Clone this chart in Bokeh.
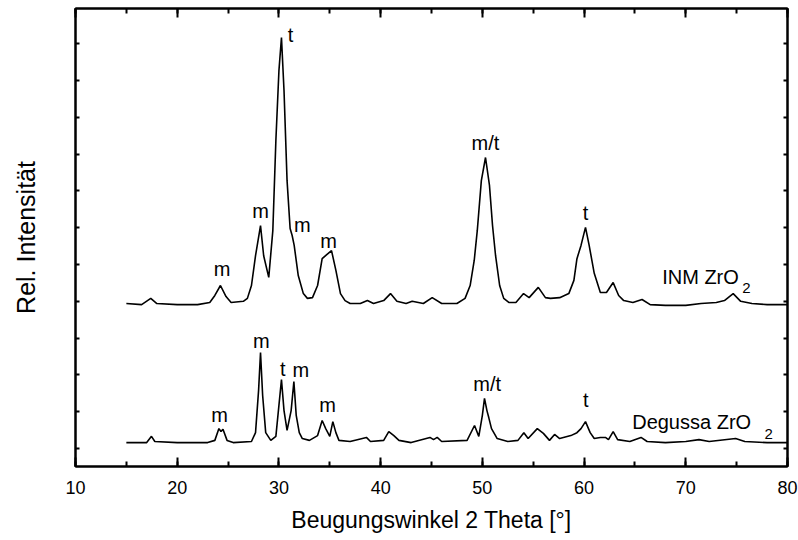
from bokeh.plotting import figure
from bokeh.models import (LinearAxis, Range1d, FixedTicker, ColumnDataSource,
                          SingleIntervalTicker, CustomLabelingPolicy)
from bokeh.core.properties import value
from bokeh.embed import file_html
from bokeh.resources import INLINE

# ---- data (2 theta in degrees, relative intensity) ----
inm_x = [15.0, 16.5, 17.4, 18.0, 20.0, 22.0, 23.2, 23.7, 24.25, 24.8, 25.3, 26.5, 26.9, 27.3,
         27.7, 28.19, 28.5, 29.0, 29.4, 29.7, 30.0, 30.25, 30.5, 30.8, 31.1, 31.3, 31.5, 31.9,
         32.4, 32.8, 33.3, 33.8, 34.25, 34.7, 35.17, 35.6, 36.05, 36.5, 37.0, 38.0, 38.7, 39.3,
         40.3, 40.97, 41.6, 42.5, 43.1, 44.2, 45.07, 46.0, 47.5, 48.3, 48.8, 49.2, 49.5, 49.9,
         50.31, 50.7, 51.0, 51.3, 51.7, 52.1, 52.6, 53.3, 54.05, 54.6, 55.5, 56.2, 56.7, 57.6,
         58.5, 59.0, 59.3, 59.7, 60.14, 60.5, 61.0, 61.6, 62.2, 62.86, 63.4, 63.9, 64.8, 65.7,
         66.5, 68.0, 70.0, 71.5, 73.0, 73.8, 74.66, 75.4, 76.5, 78.0, 80.0]
inm_y = [3.94, 3.91, 4.08, 3.94, 3.91, 3.91, 3.97, 4.16, 4.43, 4.13, 3.97, 4.00, 4.08, 4.43,
         5.24, 6.06, 5.24, 4.65, 5.92, 8.37, 10.27, 11.17, 9.73, 7.28, 5.98, 5.79, 5.52, 4.70,
         4.21, 4.08, 4.10, 4.43, 5.16, 5.27, 5.38, 4.84, 4.21, 4.02, 3.94, 3.94, 4.02, 3.94,
         4.02, 4.21, 4.00, 3.94, 4.00, 3.94, 4.10, 3.94, 3.94, 4.08, 4.43, 5.11, 5.92, 7.28,
         7.91, 7.15, 6.06, 5.24, 4.43, 4.08, 3.97, 3.97, 4.21, 4.10, 4.38, 4.10, 4.08, 4.10,
         4.21, 4.57, 5.16, 5.52, 6.01, 5.52, 4.76, 4.24, 4.24, 4.51, 4.16, 4.02, 3.97, 4.05,
         3.91, 3.89, 3.89, 3.94, 3.97, 4.02, 4.21, 4.00, 3.94, 3.91, 3.91]

deg_x = [15.0, 17.0, 17.47, 17.8, 20.0, 23.0, 23.7, 24.1, 24.3, 24.5, 24.9, 25.5, 27.3, 27.7,
         28.0, 28.19, 28.4, 28.7, 29.2, 29.7, 30.0, 30.25, 30.5, 30.8, 31.2, 31.47, 31.7, 32.0,
         32.3, 33.0, 33.8, 34.25, 34.6, 35.0, 35.3, 35.6, 35.9, 37.0, 38.6, 39.0, 40.3, 40.8,
         41.3, 41.8, 43.0, 44.85, 45.2, 45.56, 46.0, 48.5, 49.23, 49.65, 50.0, 50.21, 50.45,
         50.63, 50.9, 51.46, 52.5, 53.5, 54.08, 54.5, 55.4, 56.0, 56.6, 57.1, 57.6, 58.7, 59.3,
         59.7, 60.14, 60.6, 61.0, 61.6, 62.1, 62.4, 62.86, 63.3, 64.5, 65.6, 66.2, 68.0, 70.0,
         71.3, 72.3, 74.9, 75.8, 78.0, 80.0]
deg_y = [0.16, 0.16, 0.33, 0.19, 0.16, 0.16, 0.22, 0.54, 0.46, 0.52, 0.22, 0.16, 0.19, 0.43,
         1.58, 2.61, 1.44, 0.43, 0.22, 0.33, 1.17, 1.875, 1.03, 0.49, 1.03, 1.82, 0.90, 0.43,
         0.27, 0.22, 0.35, 0.76, 0.54, 0.33, 0.73, 0.43, 0.22, 0.19, 0.30, 0.19, 0.22, 0.46,
         0.35, 0.22, 0.16, 0.30, 0.24, 0.30, 0.19, 0.22, 0.625, 0.33, 0.90, 1.36, 1.03,
         0.84, 0.54, 0.27, 0.19, 0.22, 0.43, 0.27, 0.54, 0.41, 0.22, 0.38, 0.27, 0.35, 0.43,
         0.54, 0.73, 0.43, 0.27, 0.30, 0.30, 0.24, 0.46, 0.24, 0.19, 0.30, 0.19, 0.16, 0.19,
         0.24, 0.19, 0.27, 0.19, 0.16, 0.16]

# phase labels (m = monoclinic, t = tetragonal)
inm_lab = ["m", "m", "t", "m", "m", "m/t", "t"]
inm_lab_x = [24.4, 28.19, 31.14, 32.29, 34.87, 50.31, 60.14]
inm_lab_y = [4.88, 6.46, 11.25, 6.08, 5.63, 8.30, 6.40]

deg_lab = ["m", "m", "t", "m", "m", "m/t", "t"]
deg_lab_x = [24.16, 28.26, 30.38, 32.15, 34.78, 50.48, 60.17]
deg_lab_y = [0.92, 2.91, 2.15, 2.12, 1.19, 1.76, 1.33]

# sample names
name_text = ["INM ZrO", "Degussa ZrO"]
name_x = [67.68, 64.73]
name_y = [4.65, 0.715]
sub_text = ["2", "2"]
sub_x = [75.55, 77.74]
sub_y = [4.37, 0.40]

y_ticks = list(range(12))

FONT = "Liberation Sans"

p = figure(frame_width=712, frame_height=458,
           x_range=Range1d(10, 80), y_range=Range1d(-0.49, 11.96),
           output_backend="svg", toolbar_location=None,
           min_border_left=75, min_border_right=11, min_border_top=8, min_border_bottom=66,
           x_axis_label="Beugungswinkel 2 Theta [°]", y_axis_label="Rel. Intensität")
p.background_fill_color = "white"
p.border_fill_color = "white"
p.xgrid.visible = False
p.ygrid.visible = False
p.outline_line_color = "black"
p.outline_line_width = 2

xt = SingleIntervalTicker(interval=10, num_minor_ticks=2)
yt = FixedTicker(ticks=y_ticks, minor_ticks=[])

def no_labels(ax):
    ax.major_label_text_font_size = "0px"
    ax.major_label_policy = CustomLabelingPolicy(
        code="for (const i of indices) { if (i < 0) { yield i } }")
    ax.major_label_standoff = 0

def style_x(ax, labels):
    ax.ticker = xt
    ax.axis_line_color = "black"
    ax.axis_line_width = 2
    ax.major_tick_in = 9
    ax.major_tick_out = 0
    ax.minor_tick_in = 5
    ax.minor_tick_out = 0
    ax.major_tick_line_width = 2
    ax.minor_tick_line_width = 2
    ax.major_tick_line_color = "black"
    ax.minor_tick_line_color = "black"
    if labels:
        ax.major_label_text_font = FONT
        ax.major_label_text_font_size = "18px"
        ax.major_label_text_color = "black"
        ax.major_label_standoff = 14
    else:
        no_labels(ax)

def style_y(ax):
    ax.ticker = yt
    ax.axis_line_color = "black"
    ax.axis_line_width = 2
    ax.major_tick_in = 4
    ax.major_tick_out = 0
    ax.minor_tick_in = 0
    ax.minor_tick_out = 0
    ax.major_tick_line_width = 2
    ax.major_tick_line_color = "black"
    no_labels(ax)

style_x(p.xaxis[0], True)
p.xaxis[0].axis_label_text_font = FONT
p.xaxis[0].axis_label_text_font_size = "23px"
p.xaxis[0].axis_label_text_font_style = "normal"
p.xaxis[0].axis_label_text_color = "black"
p.xaxis[0].axis_label_standoff = 10

style_y(p.yaxis[0])
p.yaxis[0].axis_label_text_font = FONT
p.yaxis[0].axis_label_text_font_size = "25px"
p.yaxis[0].axis_label_text_font_style = "normal"
p.yaxis[0].axis_label_text_color = "black"
p.yaxis[0].axis_label_standoff = 36

top = LinearAxis()
style_x(top, False)
p.add_layout(top, "above")
right = LinearAxis()
style_y(right)
p.add_layout(right, "right")

src_inm = ColumnDataSource(dict(x=inm_x, y=inm_y))
src_deg = ColumnDataSource(dict(x=deg_x, y=deg_y))
p.line("x", "y", source=src_inm, line_color="black", line_width=1.6)
p.line("x", "y", source=src_deg, line_color="black", line_width=1.6)

lab_src = ColumnDataSource(dict(x=inm_lab_x + deg_lab_x, y=inm_lab_y + deg_lab_y,
                                t=inm_lab + deg_lab))
p.text("x", "y", text="t", source=lab_src, text_font=value(FONT), text_font_size="20px",
       text_align="center", text_baseline="middle", text_color="black")

name_src = ColumnDataSource(dict(x=name_x, y=name_y, t=name_text))
p.text("x", "y", text="t", source=name_src, text_font=value(FONT), text_font_size="20px",
       text_align="left", text_baseline="alphabetic", text_color="black")
sub_src = ColumnDataSource(dict(x=sub_x, y=sub_y, t=sub_text))
p.text("x", "y", text="t", source=sub_src, text_font=value(FONT), text_font_size="15px",
       text_align="left", text_baseline="alphabetic", text_color="black")

open("out.html", "w").write(file_html(p, INLINE))
